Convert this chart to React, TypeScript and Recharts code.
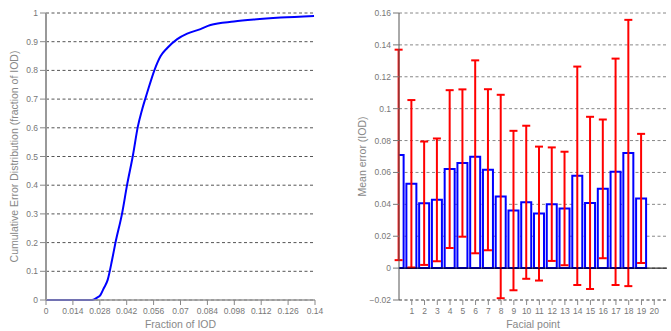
import React from 'react';
import {
  LineChart, Line, ComposedChart, Bar, ErrorBar, XAxis, YAxis, CartesianGrid, ReferenceLine,
} from 'recharts';

// left panel: cumulative error distribution
const iodFraction = [0, 0.01, 0.02, 0.024, 0.0266, 0.0283, 0.03, 0.0321, 0.0344, 0.0361, 0.0396, 0.0422, 0.0453, 0.0478, 0.05, 0.0526, 0.0565, 0.0596, 0.0631, 0.0683, 0.0735, 0.0804, 0.0856, 0.0978, 0.1082, 0.1221, 0.1395];
const cumulative = [0, 0, 0, 0, 0.008, 0.017, 0.04, 0.07, 0.14, 0.198, 0.302, 0.401, 0.506, 0.604, 0.663, 0.721, 0.802, 0.849, 0.878, 0.909, 0.928, 0.944, 0.958, 0.97, 0.977, 0.984, 0.99];
const cedXTicks = [0, 0.014, 0.028, 0.042, 0.056, 0.07, 0.084, 0.098, 0.112, 0.126, 0.14];
const cedXLabels = ['0', '0.014', '0.028', '0.042', '0.056', '0.07', '0.084', '0.098', '0.112', '0.126', '0.14'];
const cedYTicks = [0, 0.1, 0.2, 0.3, 0.4, 0.5, 0.6, 0.7, 0.8, 0.9, 1];
const cedYLabels = ['0', '0.1', '0.2', '0.3', '0.4', '0.5', '0.6', '0.7', '0.8', '0.9', '1'];

// right panel: mean error per facial point (+/- std)
const pointPos = [0, 1, 2, 3, 4, 5, 6, 7, 8, 9, 10, 11, 12, 13, 14, 15, 16, 17, 18, 19];
const meanError = [0.071, 0.0529, 0.0407, 0.0428, 0.0621, 0.0659, 0.0698, 0.0617, 0.0449, 0.0361, 0.0413, 0.0342, 0.0401, 0.0374, 0.0579, 0.0409, 0.0497, 0.0604, 0.0722, 0.0437];
const stdError = [0.066, 0.0525, 0.0387, 0.0385, 0.0495, 0.0462, 0.0605, 0.0505, 0.0638, 0.05, 0.048, 0.042, 0.0356, 0.0356, 0.0685, 0.054, 0.0435, 0.071, 0.0835, 0.0405];
const pointXTicks = [1, 2, 3, 4, 5, 6, 7, 8, 9, 10, 11, 12, 13, 14, 15, 16, 17, 18, 19, 20];
const errYTicks = [-0.02, 0, 0.02, 0.04, 0.06, 0.08, 0.1, 0.12, 0.14, 0.16];
const errYLabels = ['\u22120.02', '0', '0.02', '0.04', '0.06', '0.08', '0.1', '0.12', '0.14', '0.16'];

const FONT = 'Liberation Sans, Arial, sans-serif';
const tickStyle = { fontSize: 8.5, fill: '#777', fontFamily: FONT };
const labelStyle = { fontSize: 10.5, fill: '#888', fontFamily: FONT };

const cedData = iodFraction.map((f, i) => ({ frac: f, cdf: cumulative[i] }));
const errData = pointPos.map((p, i) => ({ pos: p, mean: meanError[i], sd: stdError[i] }));

const App: React.FC = () => {
  return (
    <div style={{ position: 'absolute', left: 0, top: 0, width: 671, height: 331, background: '#fff' }}>
      {/* Cumulative error distribution */}
      <div style={{ position: 'absolute', left: 0, top: 0 }}>
        <LineChart width={330} height={331} data={cedData} margin={{ top: 13, right: 15, bottom: 0, left: 0 }}>
          <CartesianGrid vertical={false} stroke="#555" strokeDasharray="3 2.5" />
          <XAxis
            type="number" dataKey="frac" domain={[0, 0.14]} ticks={cedXTicks} interval={0}
            tickFormatter={(v: number) => cedXLabels[cedXTicks.indexOf(v)] ?? String(v)}
            height={31} tick={tickStyle} tickSize={5} tickMargin={3}
            axisLine={{ stroke: '#999', strokeWidth: 1.5 }} tickLine={{ stroke: '#888' }}
            label={{ value: 'Fraction of IOD', position: 'center', dy: 9, style: labelStyle }}
          />
          <YAxis
            type="number" domain={[0, 1]} ticks={cedYTicks} interval={0}
            tickFormatter={(v: number) => cedYLabels[cedYTicks.indexOf(v)] ?? String(v)}
            width={46} tick={tickStyle} tickSize={6} tickMargin={2}
            axisLine={{ stroke: '#999', strokeWidth: 2 }} tickLine={{ stroke: '#888' }}
            label={{ value: 'Cumulative Error Distribution (fraction of IOD)', angle: -90, position: 'center', dx: -9, style: labelStyle }}
          />
          <Line type="monotone" dataKey="cdf" stroke="#0000ff" strokeWidth={2} dot={false} isAnimationActive={false} />
        </LineChart>
      </div>

      {/* Mean error per facial point */}
      <div style={{ position: 'absolute', left: 340, top: 0 }}>
        <ComposedChart width={331} height={331} data={errData} margin={{ top: 13, right: 4, bottom: 0, left: 0 }}>
          <CartesianGrid vertical={false} stroke="#888" strokeDasharray="3 2.5" />
          <XAxis
            type="number" dataKey="pos" domain={[0, 21]} ticks={pointXTicks} interval={0} allowDataOverflow
            height={31} tick={tickStyle} tickSize={5} tickMargin={3}
            axisLine={{ stroke: '#777', strokeDasharray: '3 2.5' }} tickLine={{ stroke: '#888' }}
            label={{ value: 'Facial point', position: 'center', dy: 9, style: labelStyle }}
          />
          <YAxis
            type="number" domain={[-0.02, 0.16]} ticks={errYTicks} interval={0}
            tickFormatter={(v: number) => errYLabels[errYTicks.indexOf(v)] ?? String(v)}
            width={59} tick={tickStyle} tickSize={6} tickMargin={2}
            axisLine={{ stroke: '#555' }} tickLine={{ stroke: '#777' }}
            label={{ value: 'Mean error (IOD)', angle: -90, position: 'center', dx: -7, style: labelStyle }}
          />
          <Bar dataKey="mean" barSize={10} fill="#fff" stroke="#0000ff" strokeWidth={2} isAnimationActive={false}>
            <ErrorBar dataKey="sd" width={4} stroke="#ff0000" strokeWidth={2} direction="y" />
          </Bar>
          <ReferenceLine y={0} stroke="#000" strokeWidth={1} />
        </ComposedChart>
      </div>
    </div>
  );
};

export default App;
